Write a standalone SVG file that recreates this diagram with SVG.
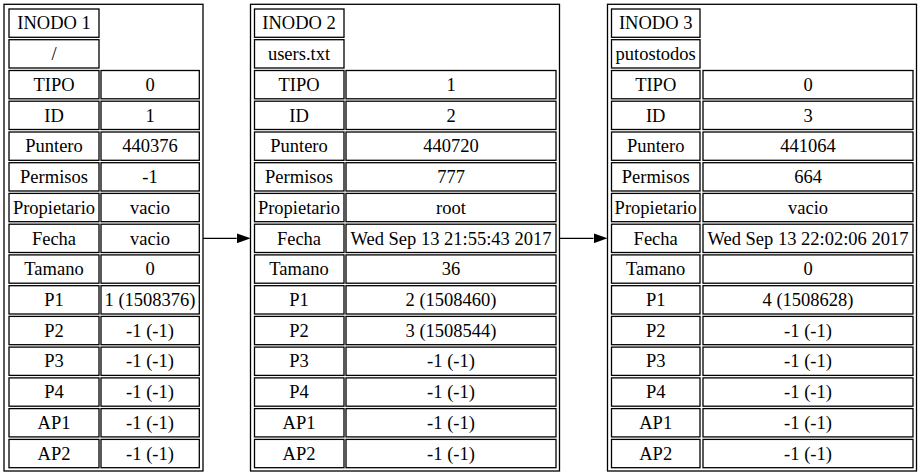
<svg xmlns="http://www.w3.org/2000/svg" width="923" height="476" viewBox="0 0 923 476">
  <style>
    .outer { fill: #ffffff; stroke: #000000; stroke-width: 1.3; }
    .cell { fill: none; stroke: #000000; stroke-width: 1.3; }
    text { font-family: "Liberation Serif", "DejaVu Serif", "Times New Roman", Times, serif; font-size: 18.5px; fill: #000000; text-anchor: middle; }
    .edge { stroke: #000000; stroke-width: 1.3; fill: none; }
  </style>
  <defs>
    <marker id="arrow" markerUnits="userSpaceOnUse" markerWidth="14" markerHeight="10" viewBox="0 0 14 10" refX="0" refY="5" orient="auto">
      <path d="M0,0 L14,5 L0,10 Z" fill="#000000"/>
    </marker>
  </defs>
  <rect width="923" height="476" fill="#ffffff"/>

  <!-- inode 1 -->
  <g id="inodo1">
    <rect class="outer" x="4" y="4.3" width="199" height="466.7"/>
    <rect class="cell" x="9" y="9" width="90" height="28.3"/>
    <rect class="cell" x="9" y="39.7" width="90" height="28.3"/>
    <rect class="cell" x="9" y="70.5" width="90" height="28.3"/><rect class="cell" x="101" y="70.5" width="98.3" height="28.3"/>
    <rect class="cell" x="9" y="101.2" width="90" height="28.3"/><rect class="cell" x="101" y="101.2" width="98.3" height="28.3"/>
    <rect class="cell" x="9" y="132" width="90" height="28.3"/><rect class="cell" x="101" y="132" width="98.3" height="28.3"/>
    <rect class="cell" x="9" y="162.7" width="90" height="28.3"/><rect class="cell" x="101" y="162.7" width="98.3" height="28.3"/>
    <rect class="cell" x="9" y="193.4" width="90" height="28.3"/><rect class="cell" x="101" y="193.4" width="98.3" height="28.3"/>
    <rect class="cell" x="9" y="224.2" width="90" height="28.3"/><rect class="cell" x="101" y="224.2" width="98.3" height="28.3"/>
    <rect class="cell" x="9" y="254.9" width="90" height="28.3"/><rect class="cell" x="101" y="254.9" width="98.3" height="28.3"/>
    <rect class="cell" x="9" y="285.7" width="90" height="28.3"/><rect class="cell" x="101" y="285.7" width="98.3" height="28.3"/>
    <rect class="cell" x="9" y="316.4" width="90" height="28.3"/><rect class="cell" x="101" y="316.4" width="98.3" height="28.3"/>
    <rect class="cell" x="9" y="347.1" width="90" height="28.3"/><rect class="cell" x="101" y="347.1" width="98.3" height="28.3"/>
    <rect class="cell" x="9" y="377.9" width="90" height="28.3"/><rect class="cell" x="101" y="377.9" width="98.3" height="28.3"/>
    <rect class="cell" x="9" y="408.6" width="90" height="28.3"/><rect class="cell" x="101" y="408.6" width="98.3" height="28.3"/>
    <rect class="cell" x="9" y="439.4" width="90" height="28.3"/><rect class="cell" x="101" y="439.4" width="98.3" height="28.3"/>
    <text x="54" y="29.3">INODO 1</text>
    <text x="54" y="60">/</text>
    <text x="54" y="90.8">TIPO</text><text x="150" y="90.8">0</text>
    <text x="54" y="121.5">ID</text><text x="150" y="121.5">1</text>
    <text x="54" y="152.3">Puntero</text><text x="150" y="152.3">440376</text>
    <text x="54" y="183">Permisos</text><text x="150" y="183">-1</text>
    <text x="54" y="213.7">Propietario</text><text x="150" y="213.7">vacio</text>
    <text x="54" y="244.5">Fecha</text><text x="150" y="244.5">vacio</text>
    <text x="54" y="275.2">Tamano</text><text x="150" y="275.2">0</text>
    <text x="54" y="306">P1</text><text x="150" y="306">1 (1508376)</text>
    <text x="54" y="336.7">P2</text><text x="150" y="336.7">-1 (-1)</text>
    <text x="54" y="367.4">P3</text><text x="150" y="367.4">-1 (-1)</text>
    <text x="54" y="398.2">P4</text><text x="150" y="398.2">-1 (-1)</text>
    <text x="54" y="428.9">AP1</text><text x="150" y="428.9">-1 (-1)</text>
    <text x="54" y="459.7">AP2</text><text x="150" y="459.7">-1 (-1)</text>
  </g>

  <!-- inode 2 -->
  <g id="inodo2">
    <rect class="outer" x="250.5" y="4.3" width="309" height="466.7"/>
    <rect class="cell" x="254.5" y="9" width="89.5" height="28.3"/>
    <rect class="cell" x="254.5" y="39.7" width="89.5" height="28.3"/>
    <rect class="cell" x="254.5" y="70.5" width="89.5" height="28.3"/><rect class="cell" x="346" y="70.5" width="210" height="28.3"/>
    <rect class="cell" x="254.5" y="101.2" width="89.5" height="28.3"/><rect class="cell" x="346" y="101.2" width="210" height="28.3"/>
    <rect class="cell" x="254.5" y="132" width="89.5" height="28.3"/><rect class="cell" x="346" y="132" width="210" height="28.3"/>
    <rect class="cell" x="254.5" y="162.7" width="89.5" height="28.3"/><rect class="cell" x="346" y="162.7" width="210" height="28.3"/>
    <rect class="cell" x="254.5" y="193.4" width="89.5" height="28.3"/><rect class="cell" x="346" y="193.4" width="210" height="28.3"/>
    <rect class="cell" x="254.5" y="224.2" width="89.5" height="28.3"/><rect class="cell" x="346" y="224.2" width="210" height="28.3"/>
    <rect class="cell" x="254.5" y="254.9" width="89.5" height="28.3"/><rect class="cell" x="346" y="254.9" width="210" height="28.3"/>
    <rect class="cell" x="254.5" y="285.7" width="89.5" height="28.3"/><rect class="cell" x="346" y="285.7" width="210" height="28.3"/>
    <rect class="cell" x="254.5" y="316.4" width="89.5" height="28.3"/><rect class="cell" x="346" y="316.4" width="210" height="28.3"/>
    <rect class="cell" x="254.5" y="347.1" width="89.5" height="28.3"/><rect class="cell" x="346" y="347.1" width="210" height="28.3"/>
    <rect class="cell" x="254.5" y="377.9" width="89.5" height="28.3"/><rect class="cell" x="346" y="377.9" width="210" height="28.3"/>
    <rect class="cell" x="254.5" y="408.6" width="89.5" height="28.3"/><rect class="cell" x="346" y="408.6" width="210" height="28.3"/>
    <rect class="cell" x="254.5" y="439.4" width="89.5" height="28.3"/><rect class="cell" x="346" y="439.4" width="210" height="28.3"/>
    <text x="299" y="29.3">INODO 2</text>
    <text x="299" y="60">users.txt</text>
    <text x="299" y="90.8">TIPO</text><text x="451" y="90.8">1</text>
    <text x="299" y="121.5">ID</text><text x="451" y="121.5">2</text>
    <text x="299" y="152.3">Puntero</text><text x="451" y="152.3">440720</text>
    <text x="299" y="183">Permisos</text><text x="451" y="183">777</text>
    <text x="299" y="213.7">Propietario</text><text x="451" y="213.7">root</text>
    <text x="299" y="244.5">Fecha</text><text x="451" y="244.5">Wed Sep 13 21:55:43 2017</text>
    <text x="299" y="275.2">Tamano</text><text x="451" y="275.2">36</text>
    <text x="299" y="306">P1</text><text x="451" y="306">2 (1508460)</text>
    <text x="299" y="336.7">P2</text><text x="451" y="336.7">3 (1508544)</text>
    <text x="299" y="367.4">P3</text><text x="451" y="367.4">-1 (-1)</text>
    <text x="299" y="398.2">P4</text><text x="451" y="398.2">-1 (-1)</text>
    <text x="299" y="428.9">AP1</text><text x="451" y="428.9">-1 (-1)</text>
    <text x="299" y="459.7">AP2</text><text x="451" y="459.7">-1 (-1)</text>
  </g>

  <!-- inode 3 -->
  <g id="inodo3">
    <rect class="outer" x="607.5" y="4.3" width="309" height="466.7"/>
    <rect class="cell" x="611.5" y="9" width="88.5" height="28.3"/>
    <rect class="cell" x="611.5" y="39.7" width="88.5" height="28.3"/>
    <rect class="cell" x="611.5" y="70.5" width="88.5" height="28.3"/><rect class="cell" x="703" y="70.5" width="210" height="28.3"/>
    <rect class="cell" x="611.5" y="101.2" width="88.5" height="28.3"/><rect class="cell" x="703" y="101.2" width="210" height="28.3"/>
    <rect class="cell" x="611.5" y="132" width="88.5" height="28.3"/><rect class="cell" x="703" y="132" width="210" height="28.3"/>
    <rect class="cell" x="611.5" y="162.7" width="88.5" height="28.3"/><rect class="cell" x="703" y="162.7" width="210" height="28.3"/>
    <rect class="cell" x="611.5" y="193.4" width="88.5" height="28.3"/><rect class="cell" x="703" y="193.4" width="210" height="28.3"/>
    <rect class="cell" x="611.5" y="224.2" width="88.5" height="28.3"/><rect class="cell" x="703" y="224.2" width="210" height="28.3"/>
    <rect class="cell" x="611.5" y="254.9" width="88.5" height="28.3"/><rect class="cell" x="703" y="254.9" width="210" height="28.3"/>
    <rect class="cell" x="611.5" y="285.7" width="88.5" height="28.3"/><rect class="cell" x="703" y="285.7" width="210" height="28.3"/>
    <rect class="cell" x="611.5" y="316.4" width="88.5" height="28.3"/><rect class="cell" x="703" y="316.4" width="210" height="28.3"/>
    <rect class="cell" x="611.5" y="347.1" width="88.5" height="28.3"/><rect class="cell" x="703" y="347.1" width="210" height="28.3"/>
    <rect class="cell" x="611.5" y="377.9" width="88.5" height="28.3"/><rect class="cell" x="703" y="377.9" width="210" height="28.3"/>
    <rect class="cell" x="611.5" y="408.6" width="88.5" height="28.3"/><rect class="cell" x="703" y="408.6" width="210" height="28.3"/>
    <rect class="cell" x="611.5" y="439.4" width="88.5" height="28.3"/><rect class="cell" x="703" y="439.4" width="210" height="28.3"/>
    <text x="655.7" y="29.3">INODO 3</text>
    <text x="655.7" y="60">putostodos</text>
    <text x="655.7" y="90.8">TIPO</text><text x="808" y="90.8">0</text>
    <text x="655.7" y="121.5">ID</text><text x="808" y="121.5">3</text>
    <text x="655.7" y="152.3">Puntero</text><text x="808" y="152.3">441064</text>
    <text x="655.7" y="183">Permisos</text><text x="808" y="183">664</text>
    <text x="655.7" y="213.7">Propietario</text><text x="808" y="213.7">vacio</text>
    <text x="655.7" y="244.5">Fecha</text><text x="808" y="244.5">Wed Sep 13 22:02:06 2017</text>
    <text x="655.7" y="275.2">Tamano</text><text x="808" y="275.2">0</text>
    <text x="655.7" y="306">P1</text><text x="808" y="306">4 (1508628)</text>
    <text x="655.7" y="336.7">P2</text><text x="808" y="336.7">-1 (-1)</text>
    <text x="655.7" y="367.4">P3</text><text x="808" y="367.4">-1 (-1)</text>
    <text x="655.7" y="398.2">P4</text><text x="808" y="398.2">-1 (-1)</text>
    <text x="655.7" y="428.9">AP1</text><text x="808" y="428.9">-1 (-1)</text>
    <text x="655.7" y="459.7">AP2</text><text x="808" y="459.7">-1 (-1)</text>
  </g>

  <!-- links between inodes -->
  <g id="edges">
    <line class="edge" x1="203" y1="238.3" x2="236.7" y2="238.3" marker-end="url(#arrow)"/>
    <line class="edge" x1="559.5" y1="238.3" x2="593.5" y2="238.3" marker-end="url(#arrow)"/>
  </g>
</svg>
